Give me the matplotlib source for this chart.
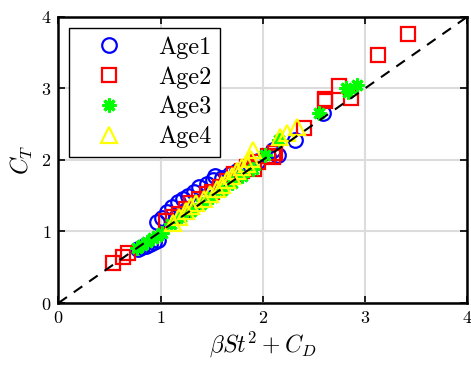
import matplotlib
matplotlib.use("Agg")
import matplotlib.pyplot as plt

plt.rcParams['mathtext.fontset'] = 'cm'
plt.rcParams['font.family'] = 'serif'
plt.rcParams['font.serif'] = ['cmr10', 'DejaVu Serif']
plt.rcParams['axes.formatter.use_mathtext'] = True

# Age1 (blue circles)
age1_x = [0.78, 0.82, 0.86, 0.90, 0.94, 0.97, 0.96, 1.01, 1.06, 1.11, 1.17, 1.22,
          1.27, 1.33, 1.38, 1.45, 1.51, 1.53, 1.60, 1.68, 1.75, 1.85, 1.95, 2.05,
          2.10, 2.15, 2.31, 2.59, 1.15, 1.25, 1.35]
age1_y = [0.75, 0.78, 0.80, 0.83, 0.86, 0.88, 1.13, 1.19, 1.27, 1.34, 1.41, 1.45,
          1.50, 1.55, 1.62, 1.67, 1.72, 1.77, 1.75, 1.80, 1.85, 1.92, 1.98, 2.05,
          2.14, 2.07, 2.28, 2.66, 1.20, 1.30, 1.40]

# Age2 (red squares)
age2_x = [0.53, 0.63, 0.68, 1.05, 1.12, 1.18, 1.25, 1.30, 1.38, 1.45, 1.50, 1.58,
          1.65, 1.72, 1.80, 1.85, 1.91, 1.95, 2.05, 2.10, 2.12, 2.40, 2.61, 2.61,
          2.75, 2.86, 3.13, 3.42]
age2_y = [0.56, 0.64, 0.70, 1.15, 1.20, 1.25, 1.32, 1.40, 1.45, 1.52, 1.55, 1.62,
          1.70, 1.80, 1.85, 1.90, 1.87, 1.97, 2.05, 2.04, 2.10, 2.45, 2.85, 2.83,
          3.03, 2.87, 3.46, 3.76]

# Age3 (green asterisks)
age3_x = [0.77, 0.82, 0.87, 0.93, 0.96, 1.01, 1.10, 1.20, 1.30, 1.40, 1.50, 1.60,
          1.70, 1.80, 1.90, 2.02, 2.16, 2.55, 2.81, 2.83, 2.92]
age3_y = [0.77, 0.81, 0.86, 0.91, 0.94, 0.98, 1.10, 1.20, 1.28, 1.38, 1.48, 1.58,
          1.68, 1.78, 1.88, 2.07, 2.28, 2.66, 3.00, 2.95, 3.05]

# Age4 (yellow triangles)
age4_x = [1.12, 1.18, 1.25, 1.30, 1.35, 1.42, 1.48, 1.55, 1.60, 1.65, 1.70, 1.75,
          1.80, 1.85, 1.90, 1.88, 2.17, 2.24, 2.33]
age4_y = [1.12, 1.20, 1.28, 1.35, 1.40, 1.45, 1.52, 1.60, 1.65, 1.72, 1.78, 1.85,
          1.90, 1.95, 2.14, 2.02, 2.32, 2.38, 2.46]

ticks = [0, 1, 2, 3, 4]

fig = plt.figure(figsize=(4.71, 3.66), dpi=100)
ax = fig.add_axes([0.124, 0.172, 0.868, 0.782])

ax.plot(age1_x, age1_y, 'o', ms=10.5, mfc='none', mec='blue', mew=1.6, label='Age1')
ax.plot(age2_x, age2_y, 's', ms=10, mfc='none', mec='red', mew=1.6, label='Age2')
ax.plot(age3_x, age3_y, ls='none', marker=(8, 2, 0), ms=10, mec='#00ff00',
        mew=2.2, label='Age3')
ax.plot(age4_x, age4_y, '^', ms=12, mfc='none', mec='yellow', mew=1.6, label='Age4')
ax.plot([0, 4], [0, 4], '--', color='k', lw=1.5, dashes=(5, 4))

ax.set_xlim(0, 4)
ax.set_ylim(0, 4)
ax.set_xticks(ticks)
ax.set_yticks(ticks)
ax.grid(True, color='#dcdcdc', lw=1.5)
ax.set_axisbelow(True)
ax.tick_params(direction='in', top=True, right=True, length=5, width=1.2,
               labelsize=13, pad=5)
for s in ax.spines.values():
    s.set_linewidth(1.8)

ax.set_xlabel(r'$\beta St^2 + C_D$', fontsize=17, labelpad=2)
ax.set_ylabel(r'$C_T$', fontsize=17, labelpad=4)

leg = ax.legend(loc='upper left', fontsize=17.5, fancybox=False, framealpha=1,
                edgecolor='k', borderaxespad=0.45, handlelength=2.6,
                handletextpad=0.7, labelspacing=0.3, borderpad=0.35)
leg.get_frame().set_linewidth(1.0)

fig.savefig('out.png', dpi=100)
